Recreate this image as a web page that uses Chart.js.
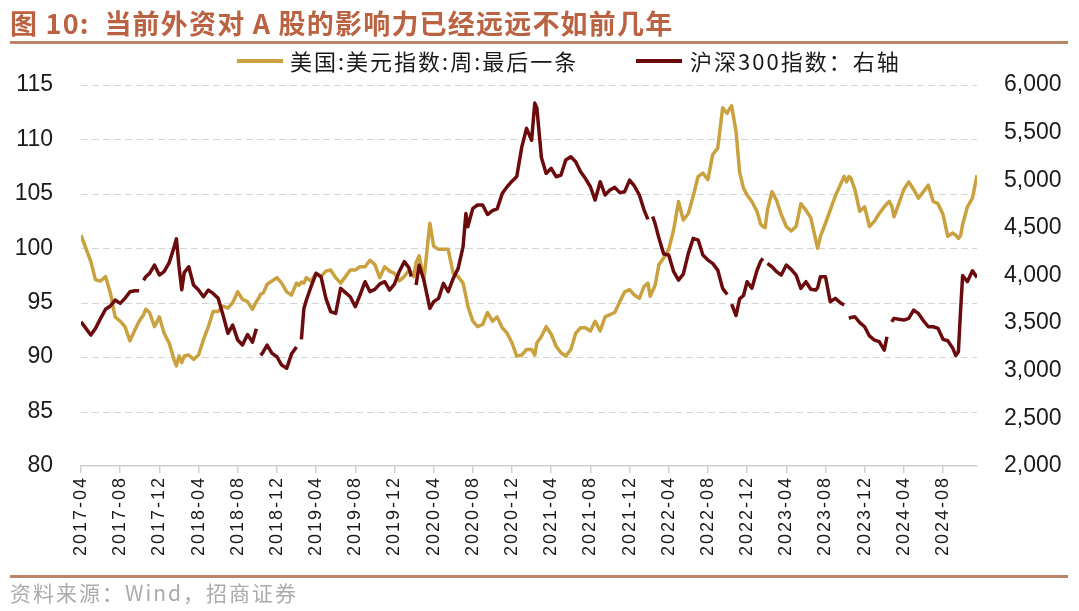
<!DOCTYPE html>
<html>
<head>
<meta charset="utf-8">
<script src="https://cdn.jsdelivr.net/npm/chart.js@4/dist/chart.umd.min.js"></script>
<style>
  html, body { margin: 0; padding: 0; background: #ffffff; }
  #wrap { position: relative; width: 1079px; height: 611px; overflow: hidden; background: #fff; }
  #chart { position: absolute; left: 0; top: 0; width: 1079px; height: 611px; }
  .ov { position: absolute; white-space: nowrap; z-index: 2; }
  #title { left: 10px; top: 3px; font-family: "Noto Sans CJK SC", sans-serif; font-weight: 700; font-size: 27px; color: #BA6241; letter-spacing: 1.2px; }
  #rule1 { left: 10px; top: 41px; width: 1058px; height: 3px; background: #BA8469; }
  #rule2 { left: 10px; top: 575px; width: 1058px; height: 3px; background: #BA8469; }
  .leg { top: 44px; font-family: "Noto Sans CJK SC", sans-serif; font-size: 22px; color: #1a1a1a; letter-spacing: 2px; }
  .legline { position: absolute; height: 4px; top: 59px; z-index: 2; }
  #footer { left: 10px; top: 577px; font-family: "Noto Sans CJK SC", sans-serif; font-size: 21px; color: #ABABAB; letter-spacing: 2px; }
</style>
</head>
<body>
<div id="wrap">
  <canvas id="chart" width="1079" height="611"></canvas>
  <div id="title" class="ov">图 10:&nbsp; 当前外资对 A 股的影响力已经远远不如前几年</div>
  <div id="rule1" class="ov"></div>
  <div class="legline" style="left:237px;width:46px;background:#C9A13F;"></div>
  <div class="ov leg" style="left:290px;">美国:美元指数:周:最后一条</div>
  <div class="legline" style="left:636px;width:46px;background:#6B0B0E;"></div>
  <div class="ov leg" style="left:690px;">沪深300指数：右轴</div>
  <div id="rule2" class="ov"></div>
  <div id="footer" class="ov">资料来源：Wind，招商证券</div>
</div>
<script>
// ---- data ----
const dates = [
  "2017-04-01","2017-04-16","2017-05-01","2017-05-16","2017-06-01","2017-06-16","2017-07-01","2017-07-16",
  "2017-08-01","2017-08-16","2017-09-01","2017-09-16","2017-09-29","2017-10-06","2017-10-13","2017-10-20",
  "2017-11-01","2017-11-16","2017-12-01","2017-12-16","2018-01-01","2018-01-16","2018-01-24","2018-02-01",
  "2018-02-09","2018-02-16","2018-03-01","2018-03-16","2018-04-01","2018-04-16","2018-05-01","2018-05-16",
  "2018-06-01","2018-06-16","2018-07-01","2018-07-16","2018-08-01","2018-08-16","2018-09-01","2018-09-16",
  "2018-09-28","2018-10-05","2018-10-12","2018-10-20","2018-11-01","2018-11-16","2018-12-01","2018-12-16",
  "2019-01-01","2019-01-16","2019-02-01","2019-02-08","2019-02-15","2019-02-22","2019-03-01","2019-03-16",
  "2019-04-01","2019-04-16","2019-05-01","2019-05-16","2019-06-01","2019-06-16","2019-07-01","2019-07-16",
  "2019-08-01","2019-08-16","2019-09-01","2019-09-16","2019-10-01","2019-10-16","2019-11-01","2019-11-16",
  "2019-12-01","2019-12-16","2020-01-01","2020-01-16","2020-01-23","2020-01-31","2020-02-07","2020-02-16",
  "2020-03-01","2020-03-20","2020-04-01","2020-04-16","2020-05-01","2020-05-16","2020-06-01","2020-06-16",
  "2020-07-01","2020-07-10","2020-07-16","2020-08-01","2020-08-16","2020-09-01","2020-09-16","2020-10-01",
  "2020-10-16","2020-11-01","2020-11-16","2020-12-01","2020-12-16","2021-01-01","2021-01-16","2021-02-01",
  "2021-02-10","2021-02-16","2021-03-01","2021-03-16","2021-04-01","2021-04-16","2021-05-01","2021-05-16",
  "2021-06-01","2021-06-16","2021-07-01","2021-07-16","2021-08-01","2021-08-16","2021-09-01","2021-09-16",
  "2021-10-01","2021-10-16","2021-11-01","2021-11-16","2021-12-01","2021-12-16","2022-01-01","2022-01-16",
  "2022-01-28","2022-02-04","2022-02-11","2022-02-18","2022-03-01","2022-03-16","2022-04-01","2022-04-16",
  "2022-05-01","2022-05-16","2022-06-01","2022-06-16","2022-07-01","2022-07-16","2022-08-01","2022-08-16",
  "2022-09-01","2022-09-16","2022-09-30","2022-10-07","2022-10-14","2022-10-28","2022-11-08","2022-11-20",
  "2022-12-01","2022-12-16","2023-01-01","2023-01-13","2023-01-20","2023-01-27","2023-02-03","2023-02-16",
  "2023-03-01","2023-03-16","2023-04-01","2023-04-16","2023-05-01","2023-05-16","2023-06-01","2023-06-16",
  "2023-07-01","2023-07-07","2023-07-16","2023-08-01","2023-08-16","2023-09-01","2023-09-16","2023-09-28",
  "2023-10-06","2023-10-13","2023-10-20","2023-11-01","2023-11-16","2023-12-01","2023-12-16","2024-01-01",
  "2024-01-16","2024-02-01","2024-02-09","2024-02-16","2024-02-23","2024-03-01","2024-03-16","2024-04-01",
  "2024-04-16","2024-05-01","2024-05-16","2024-06-01","2024-06-16","2024-07-01","2024-07-16","2024-08-01",
  "2024-08-16","2024-09-01","2024-09-10","2024-09-18","2024-09-25","2024-10-01","2024-10-16","2024-11-01",
  "2024-11-15"
];

const usdIndex = [
  101.2,100.0,98.8,97.1,97.0,97.4,95.9,93.7,
  93.3,92.8,91.5,92.5,93.3,93.6,93.9,94.4,
  94.1,92.8,93.7,92.2,91.3,89.8,89.2,90.1,
  89.5,90.1,90.2,89.8,90.2,91.6,92.8,94.2,
  94.2,94.7,94.5,95.0,96.0,95.3,95.1,94.4,
  95.1,95.4,95.8,95.9,96.7,97.0,97.3,96.8,
  96.0,95.7,96.8,96.6,96.9,96.8,97.3,97.0,
  97.7,97.4,97.9,98.0,97.3,96.8,97.4,98.0,
  98.0,98.3,98.3,98.9,98.5,97.3,98.3,97.9,
  97.7,97.0,97.4,98.0,97.8,97.4,98.7,99.3,
  97.1,102.3,100.2,99.9,99.9,99.9,97.7,97.4,
  96.8,95.6,94.7,93.3,92.8,93.0,94.1,93.3,
  93.7,92.7,92.2,91.3,90.1,90.2,90.7,90.7,
  90.2,91.3,91.9,92.8,92.1,91.0,90.4,90.1,
  90.7,92.2,92.7,92.7,92.4,93.3,92.4,93.7,
  93.9,94.1,95.1,96.0,96.2,95.7,95.4,96.5,
  96.8,95.6,96.1,96.6,98.5,99.1,99.9,101.7,
  104.3,102.6,103.2,104.8,106.6,106.9,106.3,108.6,
  109.2,112.9,112.4,112.8,113.1,110.7,107.0,105.5,
  104.9,104.3,103.4,102.2,102.0,101.9,103.5,105.2,
  104.4,103.1,102.0,101.6,102.0,104.1,103.5,102.8,
  100.8,100.0,101.1,102.3,103.5,104.8,105.8,106.6,
  106.1,106.6,106.4,105.4,103.4,103.8,102.0,102.5,
  103.2,103.8,104.1,104.3,103.9,102.9,104.1,105.4,
  106.1,105.4,104.6,105.2,105.8,104.3,104.1,103.1,
  101.1,101.4,101.2,100.9,101.2,102.2,103.8,104.6,
  106.7
];

const csi300 = [
  3515,3445,3375,3445,3550,3645,3680,3742,
  3707,3760,3830,3840,3840,null,3950,3987,
  4022,4110,4005,4040,4135,4290,4385,4100,
  3850,4030,4092,3900,3847,3777,3847,3812,
  3760,3585,3392,3480,3322,3270,3380,3300,
  3440,null,3160,3200,3270,3182,3147,3060,
  3025,3175,3250,null,3330,3650,3740,3882,
  4022,3987,3760,3620,3602,3865,3820,3777,
  3672,3795,3935,3830,3855,3910,3935,3847,
  3910,4040,4145,4080,3990,null,3900,4110,
  3952,3655,3725,3760,3917,3830,3970,4075,
  4300,4650,4512,4705,4740,4740,4640,4680,
  4700,4860,4932,4990,5040,5350,5545,5420,
  5810,5760,5240,5072,5125,5037,5055,5212,
  5247,5195,5090,5020,4932,4792,4985,4845,
  4897,4925,4870,4880,5002,4940,4845,4687,
  4590,null,4620,4545,4390,4225,4215,4040,
  3952,4015,4232,4390,4372,4215,4162,4127,
  4057,3865,3800,null,3700,3580,3755,3790,
  3935,3865,4050,4150,4180,null,4127,4092,
  4040,4005,4110,4065,4005,3865,3935,3855,
  3847,3870,3987,3987,3725,3760,3715,3690,
  null,3550,3560,3567,3505,3462,3365,3322,
  3305,3217,3357,null,3515,3550,3540,3532,
  3550,3637,3602,3525,3462,3462,3445,3330,
  3315,3235,3160,3200,3650,4000,3935,4050,
  3980
];

const leftTicks = [80, 85, 90, 95, 100, 105, 110, 115];
const rightTicks = [2000, 2500, 3000, 3500, 4000, 4500, 5000, 5500, 6000];
const seriesNames = ["美国:美元指数:周:最后一条", "沪深300指数：右轴"];

// month index since 2017-04
function monthIdx(s) {
  const p = s.split("-").map(Number);
  const dim = new Date(p[0], p[1], 0).getDate();
  return (p[0] - 2017) * 12 + (p[1] - 4) + (p[2] - 1) / dim;
}
function monthLabel(v) {
  const y = 2017 + Math.floor((v + 3) / 12);
  const m = ((v + 3) % 12) + 1;
  return y + "-" + (m < 10 ? "0" + m : m);
}
const xs = dates.map(monthIdx);
const xMax = xs[xs.length - 1];

// dashed horizontal grid lines at the left-axis ticks, and letter spacing for the date labels
const helpers = {
  id: "helpers",
  beforeDraw(chart) { chart.ctx.letterSpacing = "0px"; },
  beforeDatasetsDraw(chart) {
    const ctx = chart.ctx, a = chart.chartArea, ys = chart.scales.y;
    ctx.save();
    ctx.strokeStyle = "#D4D4D4";
    ctx.lineWidth = 1;
    ctx.setLineDash([7, 4]);
    leftTicks.forEach(v => {
      if (v === leftTicks[0]) return;
      const y = Math.round(ys.getPixelForValue(v)) + 0.5;
      ctx.beginPath(); ctx.moveTo(a.left, y); ctx.lineTo(a.right, y); ctx.stroke();
    });
    ctx.restore();
  },
  afterDatasetsDraw(chart) { chart.ctx.letterSpacing = "2px"; }
};

const tickFont = { family: "'Liberation Sans', Arial, sans-serif", size: 23 };

new Chart(document.getElementById("chart"), {
  type: "line",
  data: {
    datasets: [
      {
        label: seriesNames[0],
        data: xs.map((x, i) => ({ x: x, y: usdIndex[i] })),
        yAxisID: "y",
        borderColor: "#C9A13F",
        backgroundColor: "#C9A13F",
        borderWidth: 3.5,
        pointRadius: 0,
        tension: 0,
        spanGaps: false,
        borderJoinStyle: "round",
        order: 1
      },
      {
        label: seriesNames[1],
        data: xs.map((x, i) => ({ x: x, y: csi300[i] })),
        yAxisID: "y1",
        borderColor: "#6B0B0E",
        backgroundColor: "#6B0B0E",
        borderWidth: 3.5,
        pointRadius: 0,
        tension: 0,
        spanGaps: false,
        borderJoinStyle: "round",
        order: 0
      }
    ]
  },
  options: {
    responsive: false,
    animation: false,
    devicePixelRatio: 1,
    layout: { padding: { left: 0, right: 0, top: 85, bottom: 0 } },
    plugins: { legend: { display: false }, tooltip: { enabled: false }, title: { display: false } },
    scales: {
      x: {
        type: "linear",
        min: 0,
        max: xMax,
        afterFit(s) { s.height = 145; },
        afterBuildTicks(s) {
          const arr = [];
          for (let v = 0; v <= 88; v += 4) arr.push({ value: v });
          s.ticks = arr;
        },
        ticks: {
          z: 1,
          autoSkip: false,
          minRotation: 90,
          maxRotation: 90,
          padding: 3,
          color: "#1a1a1a",
          font: { family: "'Liberation Sans', Arial, sans-serif", size: 18 },
          callback: (v) => monthLabel(v)
        },
        grid: { display: true, drawOnChartArea: false, drawTicks: true, tickLength: 7, color: "#CFCFCF", lineWidth: 1.5 },
        border: { display: true, color: "#CFCFCF", width: 1.5 }
      },
      y: {
        position: "left",
        min: leftTicks[0],
        max: leftTicks[leftTicks.length - 1],
        afterFit(s) { s.width = 81; },
        afterBuildTicks(s) { s.ticks = leftTicks.map(v => ({ value: v })); },
        ticks: { padding: 28, color: "#1a1a1a", font: tickFont },
        grid: { display: false, drawTicks: false },
        border: { display: false }
      },
      y1: {
        position: "right",
        min: rightTicks[0],
        max: rightTicks[rightTicks.length - 1],
        afterFit(s) { s.width = 102; },
        afterBuildTicks(s) { s.ticks = rightTicks.map(v => ({ value: v })); },
        ticks: {
          padding: 27,
          color: "#1a1a1a",
          font: tickFont,
          callback: (v) => v.toLocaleString("en-US")
        },
        grid: { display: false, drawOnChartArea: false, drawTicks: false },
        border: { display: false }
      }
    }
  },
  plugins: [helpers]
});
</script>
</body>
</html>
